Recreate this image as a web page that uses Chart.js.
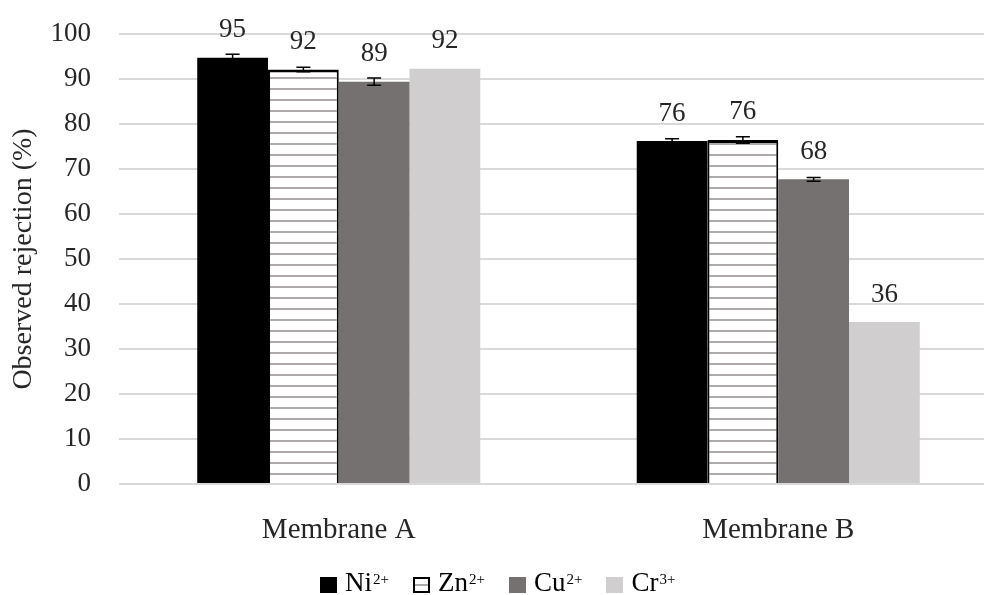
<!DOCTYPE html>
<html><head><meta charset="utf-8">
<script src="https://cdn.jsdelivr.net/npm/chart.js@4.4.1/dist/chart.umd.min.js"></script>
<style>
html,body{margin:0;padding:0;background:#fff;overflow:hidden;width:984px;height:595px;}
#wrap{position:relative;width:1000px;height:595px;}
#legend{position:absolute;left:320px;top:569px;display:flex;gap:24px;font-family:'Liberation Serif',serif;font-size:27px;color:#000;line-height:27px;white-space:nowrap;}
.item{display:flex;align-items:center;}
.box{width:17px;height:16px;margin-right:8px;box-sizing:border-box;}
.sup{font-size:15px;position:relative;top:-7px;margin-left:1px;}
</style></head>
<body><div id="wrap"><canvas id="c" width="1000" height="595"></canvas><div id="legend"></div></div>
<script>
const categories = ['Membrane A', 'Membrane B'];
const seriesNames = ['Ni', 'Zn', 'Cu', 'Cr'];
const seriesCharges = ['2+', '2+', '2+', '3+'];
const niValues = [94.7, 76.2];
const znValues = [92.1, 76.45];
const cuValues = [89.4, 67.7];
const crValues = [92.3, 36.0];
const niErrors = [0.8, 0.5];
const znErrors = [0.5, 0.7];
const cuErrors = [0.8, 0.4];
const crErrors = [0, 0];
const yTickValues = [0, 10, 20, 30, 40, 50, 60, 70, 80, 90, 100];

const FONT = "'Liberation Serif', serif";
const TEXT = '#262626';

const canvas = document.getElementById('c');
const ctx = canvas.getContext('2d');

const pc = document.createElement('canvas');
pc.width = 8; pc.height = 11;
const pctx = pc.getContext('2d');
pctx.fillStyle = '#ffffff'; pctx.fillRect(0, 0, 8, 11);
pctx.fillStyle = '#aeaaaa'; pctx.fillRect(0, 0, 8, 2);
const znPattern = ctx.createPattern(pc, 'repeat');

const seriesValues = [niValues, znValues, cuValues, crValues];
const seriesErrors = [niErrors, znErrors, cuErrors, crErrors];
const fills = ['#000000', znPattern, '#757171', '#d0cece'];
const borders = ['#000000', '#000000', '#757171', '#d0cece'];
const borderWidths = [0, { top: 3, left: 2, right: 2, bottom: 0 }, 0, 0];

const datasets = seriesNames.map((n, i) => ({
  label: n + seriesCharges[i],
  data: seriesValues[i],
  errors: seriesErrors[i],
  backgroundColor: fills[i],
  borderColor: borders[i],
  borderWidth: borderWidths[i],
  categoryPercentage: 0.644,
  barPercentage: 1.0
}));

const overlay = {
  id: 'overlay',
  afterDatasetsDraw(chart) {
    const c = chart.ctx;
    const y = chart.scales.y;
    chart.data.datasets.forEach((ds, i) => {
      const meta = chart.getDatasetMeta(i);
      meta.data.forEach((bar, j) => {
        const v = ds.data[j];
        const e = ds.errors[j];
        const x = bar.x;
        if (e > 0) {
          const t = y.getPixelForValue(v + e);
          const b = y.getPixelForValue(v - e);
          c.save();
          c.strokeStyle = '#000';
          c.lineWidth = 1.5;
          c.beginPath();
          c.moveTo(x, t); c.lineTo(x, b);
          c.moveTo(x - 7, t); c.lineTo(x + 7, t);
          c.moveTo(x - 7, b); c.lineTo(x + 7, b);
          c.stroke();
          c.restore();
        }
        const top = y.getPixelForValue(v);
        c.save();
        c.font = '27px ' + FONT;
        c.fillStyle = TEXT;
        c.textAlign = 'center';
        c.textBaseline = 'alphabetic';
        c.fillText(String(Math.round(v)), x, top - 20.5);
        c.restore();
      });
    });
  }
};

new Chart(ctx, {
  type: 'bar',
  data: { labels: categories, datasets },
  options: {
    responsive: false,
    animation: false,
    devicePixelRatio: 1,
    layout: { padding: { top: 34, right: 2, left: 0, bottom: 0 } },
    plugins: { legend: { display: false }, tooltip: { enabled: false } },
    scales: {
      x: {
        grid: { display: false },
        border: { display: false },
        ticks: { padding: 21, color: TEXT, font: { family: FONT, size: 29 } },
        afterFit(s) { s.height = 111; }
      },
      y: {
        min: 0, max: 100,
        afterBuildTicks(s) { s.ticks = yTickValues.map(v => ({ value: v })); },
        ticks: { padding: 28, color: TEXT, font: { family: FONT, size: 27 } },
        grid: { color: '#d9d9d9', lineWidth: 2, drawTicks: false },
        border: { display: false },
        title: { display: true, text: 'Observed rejection (%)', color: TEXT,
                 font: { family: FONT, size: 28 }, padding: { top: 7, bottom: 0 } },
        afterFit(s) { s.width = 119; s.paddingTop = 0; s.paddingBottom = 0; }
      }
    }
  },
  plugins: [overlay]
});

const legend = document.getElementById('legend');
seriesNames.forEach((n, i) => {
  const item = document.createElement('div');
  item.className = 'item';
  const box = document.createElement('span');
  box.className = 'box';
  if (i === 1) {
    box.style.border = '2px solid #000';
    box.style.background = 'linear-gradient(#fff 0,#fff 40%,#aeaaaa 40%,#aeaaaa 62%,#fff 62%)';
  } else {
    box.style.background = fills[i];
  }
  const txt = document.createElement('span');
  txt.innerHTML = n + '<span class="sup">' + seriesCharges[i] + '</span>';
  item.appendChild(box); item.appendChild(txt);
  legend.appendChild(item);
});
</script>
</body></html>
